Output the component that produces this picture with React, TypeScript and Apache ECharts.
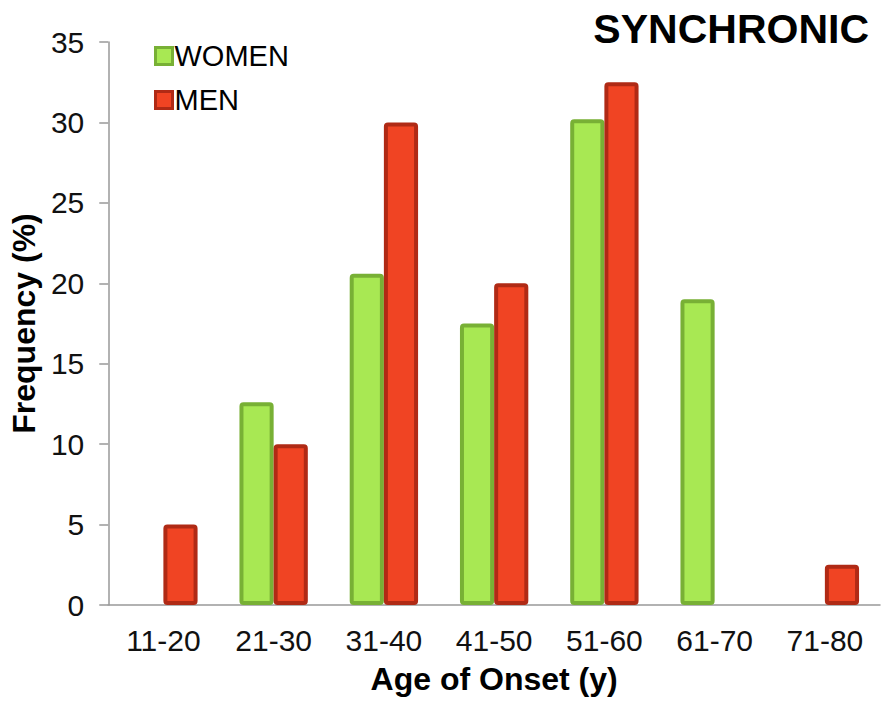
import React, { useEffect, useRef } from "react";
import * as echarts from "echarts";

const categories = ["11-20", "21-30", "31-40", "41-50", "51-60", "61-70", "71-80"];
const womenValues = [0, 12.6, 20.6, 17.5, 30.2, 19.0, 0];
const menValues = [5, 10, 30, 20, 32.5, 0, 2.5];
const yTicks = { min: 0, max: 35, interval: 5 };

const FONT = "'Liberation Sans', Arial, sans-serif";

export default function App() {
  const ref = useRef<HTMLDivElement>(null);

  useEffect(() => {
    document.body.style.margin = "0";
    const chart = echarts.init(ref.current!, null, { renderer: "svg" });
    chart.setOption({
      animation: false,
      backgroundColor: "#ffffff",
      textStyle: { fontFamily: FONT },
      title: {
        text: "SYNCHRONIC",
        right: 21,
        top: 3,
        textStyle: { fontFamily: FONT, fontSize: 41, fontWeight: "bold", color: "#000" },
      },
      legend: {
        orient: "vertical",
        left: 149,
        top: 36,
        itemWidth: 17,
        itemHeight: 17,
        itemGap: 14,
        icon: "rect",
        textStyle: { fontFamily: FONT, fontSize: 29, lineHeight: 30, color: "#000", padding: [0, 0, 0, -3] },
        data: [
          { name: "WOMEN", itemStyle: { borderWidth: 3 } },
          { name: "MEN", itemStyle: { borderWidth: 3 } },
        ],
      },
      grid: { left: 108, right: 15, top: 42, bottom: 99, containLabel: false },
      xAxis: {
        type: "category",
        data: categories,
        name: "Age of Onset (y)",
        nameLocation: "middle",
        nameGap: 58,
        nameTextStyle: { fontFamily: FONT, fontSize: 32, fontWeight: "bold", color: "#000" },
        axisLine: { lineStyle: { color: "#999", width: 1.5 } },
        axisTick: { show: false },
        axisLabel: { fontFamily: FONT, fontSize: 30, color: "#111", margin: 20 },
      },
      yAxis: {
        type: "value",
        min: yTicks.min,
        max: yTicks.max,
        interval: yTicks.interval,
        name: "Frequency (%)",
        nameLocation: "middle",
        nameGap: 66,
        nameTextStyle: { fontFamily: FONT, fontSize: 32, fontWeight: "bold", color: "#000" },
        axisLine: { show: true, lineStyle: { color: "#999", width: 1.5 } },
        axisTick: { show: true, length: 9, lineStyle: { color: "#999", width: 1.5 } },
        splitLine: { show: false },
        axisLabel: { fontFamily: FONT, fontSize: 30, color: "#111", margin: 24 },
      },
      series: [
        {
          name: "WOMEN",
          type: "bar",
          data: womenValues.map((v) => (v === 0 ? null : v)),
          barGap: "0%",
          barCategoryGap: "38%",
          itemStyle: {
            color: "#a8e853",
            borderColor: "#78b035",
            borderWidth: 4,
            borderRadius: 2,
          },
        },
        {
          name: "MEN",
          type: "bar",
          data: menValues.map((v) => (v === 0 ? null : v)),
          itemStyle: {
            color: "#f04423",
            borderColor: "#b02a15",
            borderWidth: 4,
            borderRadius: 2,
          },
        },
      ],
    });
    return () => chart.dispose();
  }, []);

  return <div ref={ref} style={{ width: 895, height: 704 }} />;
}
